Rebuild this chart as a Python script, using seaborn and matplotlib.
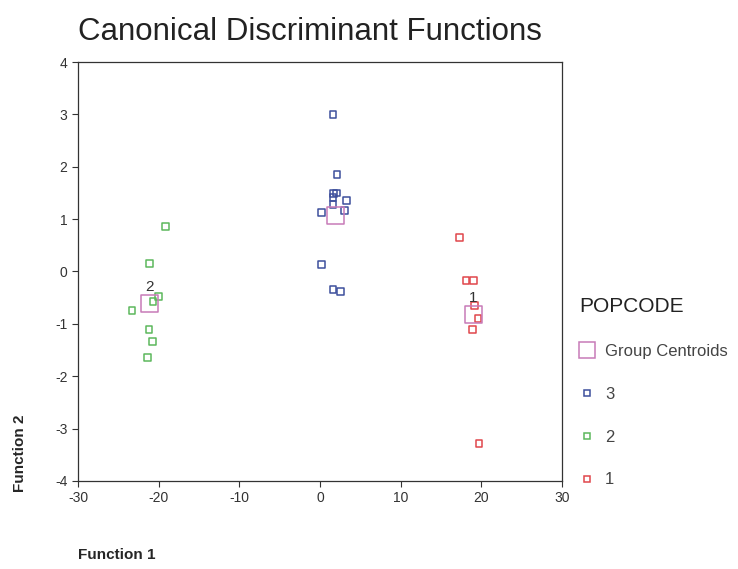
import numpy as np
import pandas as pd
import seaborn as sns
import matplotlib.pyplot as plt
from matplotlib.lines import Line2D

# discriminant scores
f1_pop1 = [17.3, 18.1, 19.0, 19.2, 19.6, 18.9, 19.7]
f2_pop1 = [0.65, -0.17, -0.17, -0.65, -0.90, -1.10, -3.28]
f1_pop2 = [-19.2, -21.1, -20.7, -20.0, -23.3, -21.2, -20.8, -21.4]
f2_pop2 = [0.86, 0.15, -0.57, -0.48, -0.74, -1.10, -1.34, -1.64]
f1_pop3 = [1.6, 2.1, 1.7, 2.0, 1.6, 1.6, 3.3, 3.0, 0.2, 0.2, 1.6, 2.5]
f2_pop3 = [3.00, 1.85, 1.49, 1.50, 1.41, 1.28, 1.35, 1.16, 1.13, 0.13, -0.34, -0.38]

centroid_code = ['1', '2', '3']
centroid_f1 = [19.0, -21.1, 1.9]
centroid_f2 = [-0.82, -0.61, 1.07]
centroid_shown = ['1', '2']

x_ticks = [-30, -20, -10, 0, 10, 20, 30]
y_ticks = [-4, -3, -2, -1, 0, 1, 2, 3, 4]

df = pd.DataFrame({
    'f1': f1_pop1 + f1_pop2 + f1_pop3,
    'f2': f2_pop1 + f2_pop2 + f2_pop3,
    'POPCODE': ['1'] * len(f1_pop1) + ['2'] * len(f1_pop2) + ['3'] * len(f1_pop3),
})
cent = pd.DataFrame({'f1': centroid_f1, 'f2': centroid_f2, 'POPCODE': centroid_code})

colors = {'1': '#e0474c', '2': '#5cb85c', '3': '#3d4f9c'}
cent_col = '#c77bb8'

sns.set_style('ticks')
plt.rcParams['font.family'] = ['Liberation Sans', 'DejaVu Sans']
plt.rcParams['axes.unicode_minus'] = False

fig = plt.figure(figsize=(7.38, 5.69), dpi=100)
ax = fig.add_axes([0.1057, 0.1547, 0.6558, 0.7363])

for code in ['3', '2', '1']:
    sub = df[df['POPCODE'] == code]
    sns.scatterplot(data=sub, x='f1', y='f2', ax=ax, marker='s', s=24,
                    facecolor='none', edgecolor=colors[code], linewidth=1.1)

sns.scatterplot(data=cent, x='f1', y='f2', ax=ax, marker='s', s=150,
                facecolor='none', edgecolor=cent_col, linewidth=1.1)

for _, r in cent.iterrows():
    if r['POPCODE'] in centroid_shown:
        ax.annotate(r['POPCODE'], (r['f1'], r['f2']), xytext=(0, 7),
                    textcoords='offset points', ha='center', va='bottom',
                    fontsize=11, color='#333333')

ax.set_xlim(-30, 30)
ax.set_ylim(-4, 4)
ax.set_xticks(x_ticks)
ax.set_yticks(y_ticks)
ax.tick_params(labelsize=10, labelcolor='#333333', length=4, color='#333333')
for sp in ax.spines.values():
    sp.set_color('#333333')
    sp.set_linewidth(0.9)

ax.set_title('Canonical Discriminant Functions', loc='left', fontsize=22.5,
             color='#222222', pad=16)
ax.set_xlabel('Function 1', loc='left', fontsize=11, fontweight='bold')
ax.xaxis.set_label_coords(0.0, -0.16)
ax.set_ylabel('Function 2', fontsize=11, fontweight='bold')
ax.yaxis.set_label_coords(-0.105, 0.065)

handles = [
    Line2D([], [], ls='', marker='s', ms=11, mfc='none', mec=cent_col, mew=1.1),
    Line2D([], [], ls='', marker='s', ms=5, mfc='none', mec=colors['3'], mew=1.1),
    Line2D([], [], ls='', marker='s', ms=5, mfc='none', mec=colors['2'], mew=1.1),
    Line2D([], [], ls='', marker='s', ms=5, mfc='none', mec=colors['1'], mew=1.1),
]
labels = ['Group Centroids', '3', '2', '1']
leg = ax.legend(handles, labels, title='POPCODE', loc='upper left',
                bbox_to_anchor=(1.022, 0.455), frameon=False, fontsize=12,
                title_fontsize=15, labelspacing=1.67, handletextpad=0.65,
                handlelength=0.9, borderaxespad=0)
leg._legend_box.align = 'left'
for t in leg.get_texts():
    t.set_color('#444444')
leg.get_title().set_color('#222222')

fig.savefig('out.png', dpi=100)
